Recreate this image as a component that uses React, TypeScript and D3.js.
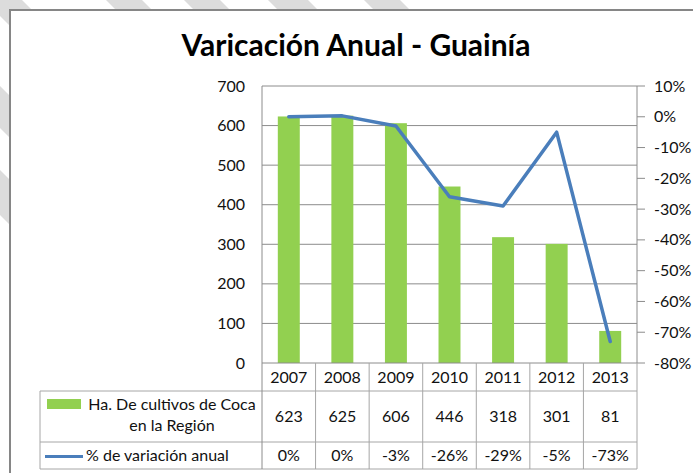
import * as d3 from 'd3';

const years = ['2007', '2008', '2009', '2010', '2011', '2012', '2013'];
const hectares = [623, 625, 606, 446, 318, 301, 81];
const variation = [0, 0.003, -0.03, -0.26, -0.29, -0.05, -0.73];
const barLabel = ['Ha. De cultivos de Coca', 'en la Región'];
const lineLabel = '% de variación anual';
const title = 'Varicación Anual - Guainía';

// watermark stripes behind the chart frame (x at y = 0, width)
const stripes = [
    [-215, 45],
    [-128, 42],
    [-16, 38],
    [106, 36],
    [184, 36],
    [268, 40],
    [364, 36],
];

const W = 693;
const H = 473;
const FONT = 'Lato, Carlito, Calibri, sans-serif';
const plot = { left: 262, right: 637, top: 86, bottom: 363 };
const rows = [363, 391, 442, 469];
const tableLeft = 40;
const GREEN = '#92D050';
const BLUE = '#4A7EBB';
const GRID = '#8c8c8c';
const TABLE = '#a6a6a6';
const INK = '#111';

const pct = (v: number) => `${Math.round(v * 100)}%`;

const App = () => {
    const x = d3.scaleBand<string>().domain(years).range([plot.left, plot.right]).padding(0);
    const y = d3.scaleLinear().domain([0, 700]).range([plot.bottom, plot.top]);
    const y2 = d3.scaleLinear().domain([-0.8, 0.1]).range([plot.bottom, plot.top]);
    const bw = x.bandwidth() * 0.41;
    const cx = (d: string) => (x(d) ?? 0) + x.bandwidth() / 2;

    const line = d3
        .line<number>()
        .x((_, i) => cx(years[i]))
        .y((d) => y2(d));

    const leftTicks = y.ticks(7);
    const rightTicks = d3.range(-8, 2).map((k) => k / 10);

    return (
        <svg width={W} height={H} style={{ position: 'absolute', left: 0, top: 0 }} fontFamily={FONT}>
            <rect width={W} height={H} fill="#fff" />
            {stripes.map(([x0, w], i) => (
                <polygon
                    key={i}
                    points={`${x0},0 ${x0 + w},0 ${x0 + w + H},${H} ${x0 + H},${H}`}
                    fill="#dcdcdc"
                />
            ))}
            {/* chart frame */}
            <rect x={10} y={10} width={720} height={500} fill="#fff" stroke="#868686" strokeWidth={2} />

            <text x={356} y={56} textAnchor="middle" fontSize={30} fontWeight="bold" fill="#000">
                {title}
            </text>

            {/* grid */}
            {leftTicks.map((t) => (
                <g key={t}>
                    {t > 0 && <line x1={plot.left} x2={plot.right} y1={y(t)} y2={y(t)} stroke={GRID} />}
                    <text x={245} y={y(t) + 5.5} textAnchor="end" fontSize={16} fill={INK}>
                        {t}
                    </text>
                </g>
            ))}

            {/* bars */}
            {years.map((d, i) => (
                <rect key={d} x={cx(d) - bw / 2} y={y(hectares[i])} width={bw} height={y(0) - y(hectares[i])} fill={GREEN} />
            ))}

            {/* right axis */}
            <line x1={plot.right} x2={plot.right} y1={plot.top} y2={plot.bottom} stroke={GRID} />
            {rightTicks.map((t) => (
                <g key={t}>
                    <line x1={plot.right} x2={plot.right + 8} y1={y2(t)} y2={y2(t)} stroke={GRID} />
                    <text x={654} y={y2(t) + 5.5} fontSize={16} fill={INK}>
                        {pct(t)}
                    </text>
                </g>
            ))}

            <path d={line(variation) ?? ''} fill="none" stroke={BLUE} strokeWidth={3.5} strokeLinejoin="round" strokeLinecap="round" />

            {/* data table */}
            <g stroke={TABLE} strokeWidth={1}>
                <line x1={plot.left} x2={plot.right} y1={rows[0]} y2={rows[0]} stroke={GRID} />
                {rows.slice(1).map((r) => (
                    <line key={r} x1={tableLeft} x2={plot.right} y1={r} y2={r} />
                ))}
                <line x1={tableLeft} x2={tableLeft} y1={rows[1]} y2={rows[3]} />
                <line x1={plot.left} x2={plot.left} y1={plot.top} y2={rows[3]} stroke={GRID} />
                {years.map((d) => (
                    <line key={d} x1={(x(d) ?? 0) + x.bandwidth()} x2={(x(d) ?? 0) + x.bandwidth()} y1={rows[0]} y2={rows[3]} />
                ))}
            </g>
            {years.map((d, i) => (
                <g key={d} fontSize={16} fill={INK} textAnchor="middle">
                    <text x={cx(d)} y={383}>{d}</text>
                    <text x={cx(d)} y={422}>{hectares[i]}</text>
                    <text x={cx(d)} y={461}>{pct(variation[i])}</text>
                </g>
            ))}

            <rect x={47} y={399} width={34} height={10} fill={GREEN} />
            <text x={172} y={410} textAnchor="middle" fontSize={16} fill={INK}>{barLabel[0]}</text>
            <text x={172} y={431} textAnchor="middle" fontSize={16} fill={INK}>{barLabel[1]}</text>
            <line x1={45} x2={83} y1={456.5} y2={456.5} stroke={BLUE} strokeWidth={3} />
            <text x={86} y={461} fontSize={16} fill={INK}>{lineLabel}</text>
        </svg>
    );
};

export default App;
